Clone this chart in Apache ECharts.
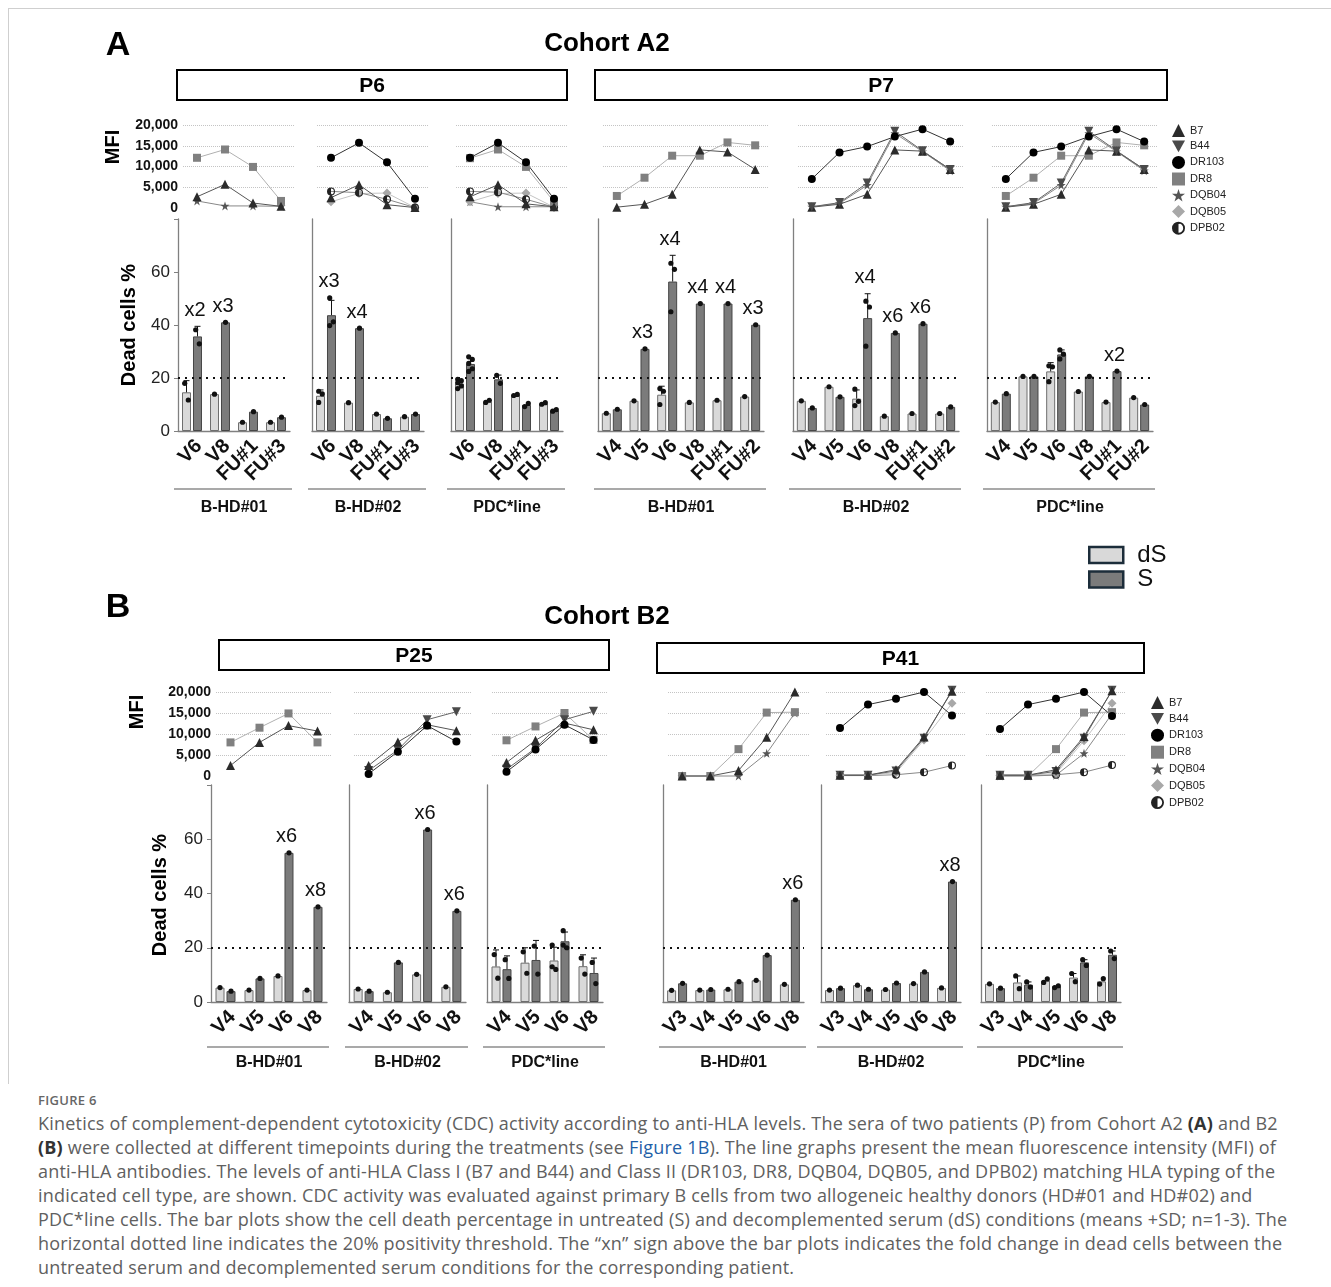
<!DOCTYPE html>
<html lang="en">
<head>
<meta charset="UTF-8">
<title>Figure 6 - CDC kinetics vs anti-HLA</title>
<script src="https://cdn.jsdelivr.net/npm/echarts@6.0.0/dist/echarts.min.js"></script>
<style>
  body { margin: 0; background: #fff; }
  #frame { position: absolute; left: 8px; top: 8px; width: 1323px; height: 1075px;
           border-top: 1px solid #cfcfcf; border-left: 1px solid #cfcfcf; }
  #main { position: absolute; left: 0; top: 0; width: 1331px; height: 1090px; }
  #caption { position: absolute; left: 38px; top: 1090px; font-family: "Open Sans", sans-serif; color: #606060; }
  #caption .fig { font-size: 13px; font-weight: 600; line-height: 20px; letter-spacing: 0.3px; color: #666; }
  #caption .txt { font-size: 18px; line-height: 24px; letter-spacing: 0.21px; white-space: nowrap; margin-top: 1px; }
  #caption b { color: #333; }
  #caption .lnk { color: #1f5fa8; }
</style>
</head>
<body>
<div id="frame"></div>
<div id="main"></div>
<div id="caption">
  <div class="fig">FIGURE 6</div>
  <div class="txt">
    Kinetics of complement-dependent cytotoxicity (CDC) activity according to anti-HLA levels. The sera of two patients (P) from Cohort A2 <b>(A)</b> and B2<br>
    <b>(B)</b> were collected at different timepoints during the treatments (see <span class="lnk">Figure 1B</span>). The line graphs present the mean fluorescence intensity (MFI) of<br>
    anti-HLA antibodies. The levels of anti-HLA Class I (B7 and B44) and Class II (DR103, DR8, DQB04, DQB05, and DPB02) matching HLA typing of the<br>
    indicated cell type, are shown. CDC activity was evaluated against primary B cells from two allogeneic healthy donors (HD#01 and HD#02) and<br>
    PDC*line cells. The bar plots show the cell death percentage in untreated (S) and decomplemented serum (dS) conditions (means +SD; n=1-3). The<br>
    horizontal dotted line indicates the 20% positivity threshold. The “xn” sign above the bar plots indicates the fold change in dead cells between the<br>
    untreated serum and decomplemented serum conditions for the corresponding patient.
  </div>
</div>
<script>
// ---------------- data ----------------
// MFI rows: antigen, then one value per visit
// Dead rows: mean dS, SD dS, mean S, SD S, fold label
// Reps rows: [dS replicates], [S replicates]

// Cohort A2 - P6
const p6Visits = ['V6', 'V8', 'FU#1', 'FU#3'];
const p6Hd01Mfi = [
  ['DQB04', 1700, 500, 500, 400],
  ['DR8', 12100, 14100, 9900, 1700],
  ['B7', 2700, 5700, 1200, 400]
];
const p6Hd02Mfi = [
  ['DQB05', 1500, 3500, 3600, 100],
  ['DPB02', 4000, 3700, 2100, 100],
  ['B7', 2500, 5600, 800, 100],
  ['DR103', 12100, 15700, 11000, 2200]
];
const p6PdcMfi = [
  ['DQB04', 1500, 300, 300, 300],
  ['DQB05', 1500, 3500, 3600, 200],
  ['DPB02', 4000, 3800, 2100, 200],
  ['DR8', 12000, 14100, 9900, 1500],
  ['B7', 2700, 5600, 1000, 300],
  ['DR103', 12100, 15700, 11000, 2200]
];
const p6Hd01Dead = [[14.6, 4.4, 35.7, 3.8, 'x2'], [13.9, 0, 41.0, 0, 'x3'], [3.3, 0, 7.3, 0, ''], [3.3, 0, 5.2, 0, '']];
const p6Hd01Reps = [[[18.0, 11.7], [38.2, 32.9]], [[13.9], [41.0]], [[3.3], [7.3]], [[3.3], [5.2]]];
const p6Hd02Dead = [[13.3, 2.2, 43.7, 5.6, 'x3'], [10.7, 0, 38.8, 0, 'x4'], [6.4, 0, 4.8, 0, ''], [5.4, 0, 6.4, 0, '']];
const p6Hd02Reps = [[[15.0, 14.0, 10.8], [50.2, 41.2, 39.8]], [[10.7], [38.8]], [[6.4], [4.8]], [[5.4], [6.4]]];
const p6PdcDead = [[17.9, 1.4, 25.3, 2.3, ''], [11.1, 0, 19.5, 1.6, ''], [13.6, 0, 9.8, 0, ''], [10.4, 0, 7.8, 0, '']];
const p6PdcReps = [
  [[19.5, 19.0, 18.2, 17.0, 16.0], [28.0, 27.0, 25.5, 23.5, 22.5]],
  [[10.8, 11.6], [21.0, 18.0]], [[13.4, 13.8], [9.2, 10.4]], [[10.1, 10.7], [7.5, 8.1]]
];

// Cohort A2 - P7
const p7Visits = ['V4', 'V5', 'V6', 'V8', 'FU#1', 'FU#2'];
const p7Hd01Mfi = [
  ['DR8', 2900, 7300, 12600, 12600, 15800, 15100],
  ['B7', 200, 900, 3300, 14000, 13500, 9300]
];
const p7Hd02Mfi = [
  ['DQB04', 300, 1100, 5500, 18000, 13600, 9000],
  ['B7', 200, 900, 3300, 14000, 13700, 9300],
  ['B44', 300, 1300, 6000, 18500, 13800, 9300],
  ['DR103', 7000, 13400, 14800, 17200, 19000, 16000]
];
const p7PdcMfi = [
  ['DR8', 2900, 7300, 12600, 12600, 15800, 15100],
  ['DQB04', 300, 1100, 5500, 18000, 13600, 9000],
  ['B7', 200, 900, 3300, 14000, 13700, 9300],
  ['B44', 300, 1300, 6000, 18500, 13800, 9300],
  ['DR103', 7000, 13400, 14800, 17200, 19000, 16000]
];
const p7Hd01Dead = [[6.7, 0, 8.2, 0, ''], [11.4, 0, 31.0, 0, 'x3'], [13.7, 3.2, 56.4, 9.9, 'x4'],
  [10.8, 0, 48.1, 0, 'x4'], [11.6, 0, 48.1, 0, 'x4'], [13.0, 0, 40.1, 0, 'x3']];
const p7Hd01Reps = [[[6.7], [8.2]], [[11.4], [31.0]], [[16.0, 15.0, 10.0], [63.3, 61.0, 45.0]],
  [[10.8], [48.1]], [[11.6], [48.1]], [[13.0], [40.1]]];
const p7Hd02Dead = [[11.4, 0, 8.7, 0, ''], [16.7, 0, 12.9, 0, ''], [12.2, 3.3, 42.6, 9.2, 'x4'],
  [5.6, 0, 37.0, 0, 'x6'], [6.6, 0, 40.5, 0, 'x6'], [6.6, 0, 9.1, 0, '']];
const p7Hd02Reps = [[[11.4], [8.7]], [[16.7], [12.9]], [[15.8, 11.2, 9.6], [49.0, 46.8, 32.0]],
  [[5.6], [37.0]], [[6.6], [40.5]], [[6.6], [9.1]]];
const p7PdcDead = [[10.9, 0, 14.1, 0, ''], [20.6, 0, 20.6, 0, ''], [22.5, 3.3, 28.9, 1.7, ''],
  [14.9, 0, 20.6, 0, ''], [10.9, 0, 22.6, 0, 'x2'], [12.6, 0, 10.0, 0, '']];
const p7PdcReps = [[[10.9], [14.1]], [[20.6], [20.6]], [[24.6, 24.2, 18.6], [30.6, 29.0, 27.2]],
  [[14.9], [20.6]], [[10.9], [22.6]], [[12.6], [10.0]]];

// Cohort B2 - P25
const p25Visits = ['V4', 'V5', 'V6', 'V8'];
const p25Hd01Mfi = [
  ['DR8', 8000, 11500, 14900, 8000],
  ['B7', 2500, 8000, 12000, 10700]
];
const p25Hd02Mfi = [
  ['B44', 1300, 6200, 13400, 15300],
  ['B7', 2500, 8100, 12200, 10800],
  ['DR103', 500, 5800, 12000, 8200]
];
const p25PdcMfi = [
  ['DR8', 8500, 11800, 15000, 8600],
  ['B44', 1600, 6600, 13400, 15400],
  ['B7', 3200, 8500, 12600, 11000],
  ['DR103', 1000, 6300, 12200, 8600]
];
const p25Hd01Dead = [[5.3, 0, 4.0, 0, ''], [4.4, 0, 8.7, 0, ''], [9.6, 0, 55.0, 0, 'x6'], [4.4, 0, 35.1, 0, 'x8']];
const p25Hd01Reps = [[[5.3], [4.0]], [[4.4], [8.7]], [[9.6], [55.0]], [[4.4], [35.1]]];
const p25Hd02Dead = [[4.8, 0, 4.0, 0, ''], [3.6, 0, 14.6, 0, ''], [10.2, 0, 63.6, 0, 'x6'], [5.6, 0, 33.6, 0, 'x6']];
const p25Hd02Reps = [[[4.8], [4.0]], [[3.6], [14.6]], [[10.2], [63.6]], [[5.6], [33.6]]];
const p25PdcDead = [[13.1, 6.1, 12.1, 4.9, ''], [14.5, 5.5, 15.5, 7.2, ''], [15.3, 4.9, 22.4, 3.4, ''], [13.2, 4.2, 10.7, 5.5, '']];
const p25PdcReps = [[[17.5, 8.8], [15.6, 8.7]], [[18.5, 10.6], [20.6, 10.3]],
  [[21.0, 12.0, 13.0], [26.3, 20.0, 21.0]], [[16.2, 10.3], [14.6, 6.8]]];

// Cohort B2 - P41
const p41Visits = ['V3', 'V4', 'V5', 'V6', 'V8'];
const p41Hd01Mfi = [
  ['DQB04', 0, 0, 0, 5400, 15000],
  ['DR8', 0, 0, 6400, 15100, 15200],
  ['B7', 0, 0, 1300, 9200, 20000]
];
const p41Hd02Mfi = [
  ['DPB02', 100, 100, 300, 900, 2500],
  ['DQB05', 200, 200, 800, 8600, 17300],
  ['B44', 200, 200, 1200, 9000, 20400],
  ['B7', 200, 200, 1500, 9300, 20200],
  ['DR103', 11400, 17000, 18400, 20000, 14400]
];
const p41PdcMfi = [
  ['DPB02', 100, 100, 300, 900, 2600],
  ['DQB04', 0, 0, 200, 5400, 14800],
  ['DQB05', 200, 200, 600, 8400, 17300],
  ['DR8', 0, 0, 6400, 15100, 15200],
  ['B44', 200, 200, 1100, 9000, 20400],
  ['B7', 200, 200, 1500, 9400, 20300],
  ['DR103', 11200, 17000, 18400, 20000, 14300]
];
const p41Hd01Dead = [[4.3, 0, 6.9, 0, ''], [4.4, 0, 4.6, 0, ''], [4.7, 0, 7.5, 0, ''], [8.0, 0, 17.3, 0, ''], [6.5, 0, 37.7, 0, 'x6']];
const p41Hd01Reps = [[[4.3], [6.9]], [[4.4], [4.6]], [[4.7], [7.5]], [[8.0], [17.3]], [[6.5], [37.7]]];
const p41Hd02Dead = [[4.4, 0, 5.1, 0, ''], [6.2, 0, 4.7, 0, ''], [4.6, 0, 7.0, 0, ''], [6.8, 0, 11.1, 0, ''], [5.2, 0, 44.4, 0, 'x8']];
const p41Hd02Reps = [[[4.4], [5.1]], [[6.2], [4.7]], [[4.6], [7.0]], [[6.8], [11.1]], [[5.2], [44.4]]];
const p41PdcDead = [[6.7, 0, 5.1, 0, ''], [7.2, 2.4, 6.4, 1.0, ''], [7.9, 0, 5.8, 0, ''], [9.0, 1.5, 14.6, 1.0, ''], [7.6, 0, 17.4, 1.4, '']];
const p41PdcReps = [[[6.7], [5.1]], [[9.6, 4.9], [7.4, 5.5]], [[7.2, 8.5], [5.3, 6.0]],
  [[10.5, 7.5], [15.6, 13.5]], [[6.6, 8.6], [18.8, 16.0]]];

// ---------------- styles & layout ----------------
const FONT = '"Liberation Sans", Arial, Helvetica, sans-serif';
const STAR = 'path://M50,0L61.2,34.5L97.6,34.5L68.2,55.9L79.4,90.5L50,69.1L20.6,90.5L31.8,55.9L2.4,34.5L38.8,34.5Z';
const INV_TRI = 'path://M0,0L100,0L50,90Z';
const HALF = 'path://M50,0A50,50,0,0,0,50,100ZM50,0A50,50,0,0,1,50,100L50,86A36,36,0,0,0,50,14Z';

const antigenStyle = {
  B7:    { symbol: 'triangle', size: 9, color: '#2b2b2b', line: '#555' },
  B44:   { symbol: INV_TRI, size: 9, color: '#4a4a4a', line: '#666' },
  DR103: { symbol: 'circle', size: 8, color: '#000', line: '#333' },
  DR8:   { symbol: 'rect', size: 8, color: '#808080', line: '#b0b0b0' },
  DQB04: { symbol: STAR, size: 9, color: '#555', line: '#888' },
  DQB05: { symbol: 'diamond', size: 9, color: '#a8a8a8', line: '#c4c4c4' },
  DPB02: { symbol: HALF, size: 8, color: '#222', line: '#888' }
};

const A2 = { lineTop: 125, lineH: 83, barTop: 219, barH: 212, nameGap: 69, under: 489 };
const B2 = { lineTop: 692, lineH: 84, barTop: 785, barH: 217, nameGap: 53, under: 1047 };

const panels = [
  { c: A2, x: 178, w: 112, visits: p6Visits, mfi: p6Hd01Mfi, dead: p6Hd01Dead, reps: p6Hd01Reps, group: 'B-HD#01', first: true },
  { c: A2, x: 312, w: 112, visits: p6Visits, mfi: p6Hd02Mfi, dead: p6Hd02Dead, reps: p6Hd02Reps, group: 'B-HD#02' },
  { c: A2, x: 451, w: 112, visits: p6Visits, mfi: p6PdcMfi, dead: p6PdcDead, reps: p6PdcReps, group: 'PDC*line' },
  { c: A2, x: 598, w: 166, visits: p7Visits, mfi: p7Hd01Mfi, dead: p7Hd01Dead, reps: p7Hd01Reps, group: 'B-HD#01' },
  { c: A2, x: 793, w: 166, visits: p7Visits, mfi: p7Hd02Mfi, dead: p7Hd02Dead, reps: p7Hd02Reps, group: 'B-HD#02' },
  { c: A2, x: 987, w: 166, visits: p7Visits, mfi: p7PdcMfi, dead: p7PdcDead, reps: p7PdcReps, group: 'PDC*line' },
  { c: B2, x: 211, w: 116, visits: p25Visits, mfi: p25Hd01Mfi, dead: p25Hd01Dead, reps: p25Hd01Reps, group: 'B-HD#01', first: true },
  { c: B2, x: 349, w: 117, visits: p25Visits, mfi: p25Hd02Mfi, dead: p25Hd02Dead, reps: p25Hd02Reps, group: 'B-HD#02' },
  { c: B2, x: 487, w: 116, visits: p25Visits, mfi: p25PdcMfi, dead: p25PdcDead, reps: p25PdcReps, group: 'PDC*line' },
  { c: B2, x: 663, w: 141, visits: p41Visits, mfi: p41Hd01Mfi, dead: p41Hd01Dead, reps: p41Hd01Reps, group: 'B-HD#01' },
  { c: B2, x: 821, w: 140, visits: p41Visits, mfi: p41Hd02Mfi, dead: p41Hd02Dead, reps: p41Hd02Reps, group: 'B-HD#02' },
  { c: B2, x: 981, w: 140, visits: p41Visits, mfi: p41PdcMfi, dead: p41PdcDead, reps: p41PdcReps, group: 'PDC*line' }
];

// error bars, replicate dots and fold labels drawn on top of the bars
function replicateLayer(p) {
  return function (params, api) {
    const i = params.dataIndex;
    const r = p.dead[i];
    const kids = [];
    [[r[0], r[1], p.reps[i][0], -5.5], [r[2], r[3], p.reps[i][1], 5.5]].forEach(function (s) {
      const base = api.coord([i, s[0]]);
      const x = base[0] + s[3];
      if (s[1]) {
        const top = api.coord([i, s[0] + s[1]])[1];
        kids.push({ type: 'line', shape: { x1: x, y1: base[1], x2: x, y2: top }, style: { stroke: '#111', lineWidth: 1 } });
        kids.push({ type: 'line', shape: { x1: x - 3, y1: top, x2: x + 3, y2: top }, style: { stroke: '#111', lineWidth: 1 } });
      }
      const n = s[2].length;
      s[2].forEach(function (v, k) {
        const y = api.coord([i, v])[1];
        const dx = n > 1 ? (k % 2 ? 1.8 : -1.8) : 0;
        kids.push({ type: 'circle', shape: { cx: x + dx, cy: y, r: 2.6 }, style: { fill: '#111' } });
      });
    });
    if (r[4]) {
      const hi = Math.max(r[2] + r[3], ...p.reps[i][1]);
      const pt = api.coord([i, hi]);
      kids.push({ type: 'text', style: { text: r[4], x: pt[0] + 3, y: pt[1] - 6, align: 'center', verticalAlign: 'bottom',
        fontSize: 20, fontFamily: FONT, fill: '#111' } });
    }
    return { type: 'group', children: kids };
  };
}

const grid = [], xAxis = [], yAxis = [], series = [], graphic = [];

panels.forEach(function (p, k) {
  const li = 2 * k, bi = 2 * k + 1;
  grid.push({ left: p.x + 5, top: p.c.lineTop, width: p.w, height: p.c.lineH });
  grid.push({ left: p.x, top: p.c.barTop, width: p.w, height: p.c.barH });

  // MFI line plot
  xAxis.push({ gridIndex: li, type: 'category', data: p.visits, show: false });
  yAxis.push({
    gridIndex: li, type: 'value', min: 0, max: 20000, interval: 5000,
    axisLine: { show: false }, axisTick: { show: false },
    axisLabel: { show: !!p.first, fontSize: 14, fontWeight: 'bold', color: '#111', margin: 5,
      formatter: function (v) { return v.toLocaleString('en-US'); } },
    splitLine: { show: true, lineStyle: { type: 'dotted', width: 1,
      color: ['rgba(0,0,0,0)', '#c4c4c4', '#c4c4c4', '#c4c4c4', '#c4c4c4'] } }
  });
  p.mfi.forEach(function (row) {
    const st = antigenStyle[row[0]];
    series.push({
      type: 'line', name: row[0], xAxisIndex: li, yAxisIndex: li, data: row.slice(1),
      symbol: st.symbol, symbolSize: st.size, showAllSymbol: true, clip: false, silent: true,
      itemStyle: { color: st.color }, lineStyle: { color: st.line, width: 1 }, z: 3
    });
  });

  // dead-cell bar plot
  xAxis.push({
    gridIndex: bi, type: 'category', data: p.visits,
    axisLine: { lineStyle: { color: '#808080', width: 1.3 } }, axisTick: { show: false },
    axisLabel: { rotate: 45, interval: 0, fontSize: 20, fontWeight: 'bold', color: '#111', margin: 5, verticalAlign: 'top' },
    name: p.group, nameLocation: 'middle', nameGap: p.c.nameGap,
    nameTextStyle: { fontSize: 16, fontWeight: 'bold', color: '#111' }
  });
  yAxis.push({
    gridIndex: bi, type: 'value', min: 0, max: 80, interval: 20,
    axisLine: { show: true, lineStyle: { color: '#808080', width: 1.3 } },
    axisTick: { show: !!p.first, length: 4, lineStyle: { color: '#808080' } },
    axisLabel: { show: !!p.first, fontSize: 17, color: '#222', margin: 8,
      formatter: function (v) { return v === 80 ? '' : v; } },
    splitLine: { show: false }
  });
  series.push({
    type: 'bar', name: 'dS', xAxisIndex: bi, yAxisIndex: bi, data: p.dead.map(function (r) { return r[0]; }),
    barWidth: 9, barGap: '22%', silent: true,
    itemStyle: { color: '#d9d9d9', borderColor: '#6e6e6e', borderWidth: 1 }
  });
  series.push({
    type: 'bar', name: 'S', xAxisIndex: bi, yAxisIndex: bi, data: p.dead.map(function (r) { return r[2]; }),
    barWidth: 9, barGap: '22%', silent: true,
    itemStyle: { color: '#7b7b7b', borderColor: '#474747', borderWidth: 1 },
    markLine: { silent: true, symbol: ['none', 'none'], label: { show: false },
      lineStyle: { color: '#111', type: [2, 5], width: 2 }, data: [{ yAxis: 20 }] }
  });
  series.push({
    type: 'custom', xAxisIndex: bi, yAxisIndex: bi, clip: false, silent: true, z: 6,
    data: p.dead.map(function (r, i) { return [i, r[2]]; }),
    renderItem: replicateLayer(p)
  });

  graphic.push({ type: 'line', silent: true,
    shape: { x1: p.x - 4, y1: p.c.under, x2: p.x + p.w + 2, y2: p.c.under },
    style: { stroke: '#8c8c8c', lineWidth: 1.5 } });
});

function label(text, x, y, size, rot) {
  return { type: 'text', x: x, y: y, rotation: rot || 0, silent: true,
    style: { text: text, align: 'center', verticalAlign: 'middle', fontSize: size, fontWeight: 'bold', fontFamily: FONT, fill: '#000' } };
}
function box(text, x, y, w, h) {
  return [
    { type: 'rect', silent: true, shape: { x: x, y: y, width: w, height: h },
      style: { fill: '#fff', stroke: '#000', lineWidth: 2 } },
    label(text, x + w / 2, y + h / 2 + 1, 21)
  ];
}

graphic.push(
  label('A', 118, 46, 34), label('Cohort A2', 607, 44, 26),
  ...box('P6', 177, 70, 390, 30), ...box('P7', 595, 70, 572, 30),
  label('MFI', 113, 147, 20, Math.PI / 2), label('Dead cells %', 129, 325, 20, Math.PI / 2),
  label('B', 118, 608, 34), label('Cohort B2', 607, 617, 26),
  ...box('P25', 219, 640, 390, 30), ...box('P41', 657, 643, 487, 30),
  label('MFI', 137, 712, 20, Math.PI / 2), label('Dead cells %', 160, 895, 20, Math.PI / 2)
);

const antigenLegend = ['B7', 'B44', 'DR103', 'DR8', 'DQB04', 'DQB05', 'DPB02'].map(function (n) {
  return { name: n, icon: antigenStyle[n].symbol, itemStyle: { color: antigenStyle[n].color } };
});

const chart = echarts.init(document.getElementById('main'));
chart.setOption({
  animation: false,
  textStyle: { fontFamily: FONT },
  grid: grid, xAxis: xAxis, yAxis: yAxis, series: series, graphic: graphic,
  legend: [
    { left: 1172, top: 124, orient: 'vertical', itemWidth: 13, itemHeight: 13, itemGap: 3.6, padding: 0,
      selectedMode: false, data: antigenLegend, textStyle: { fontSize: 11, color: '#222' } },
    { left: 1151, top: 696, orient: 'vertical', itemWidth: 13, itemHeight: 13, itemGap: 4, padding: 0,
      selectedMode: false, data: antigenLegend, textStyle: { fontSize: 11, color: '#222' } },
    { left: 1088, top: 543, orient: 'vertical', itemWidth: 34, itemHeight: 16, itemGap: 0.5, padding: 0,
      selectedMode: false, icon: 'rect', textStyle: { fontSize: 24, lineHeight: 24, color: '#111', padding: [0, 0, 0, 9] },
      data: [
        { name: 'dS', itemStyle: { borderColor: '#1c2d3a', borderWidth: 2.5 } },
        { name: 'S', itemStyle: { borderColor: '#1c2d3a', borderWidth: 2.5 } }
      ] }
  ]
});
</script>
</body>
</html>
